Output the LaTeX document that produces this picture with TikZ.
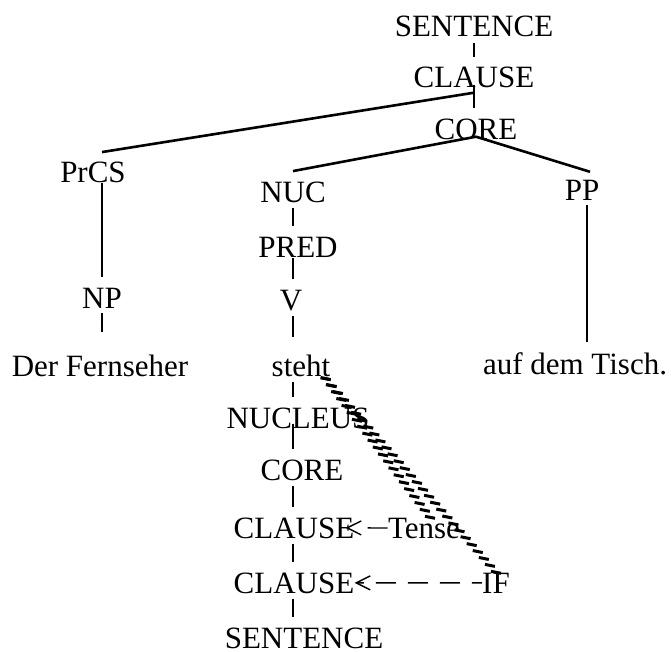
\documentclass[tikz,border=0pt]{standalone}
\usepackage{fontspec}
\setmainfont{Liberation Serif}
\usetikzlibrary{arrows.meta, calc}

\begin{document}
\begin{tikzpicture}[
    x=0.5bp, y=-0.5bp,
    word/.style={anchor=base, inner sep=0pt, font=\fontsize{15.5bp}{18bp}\selectfont},
    edge/.style={line width=1.3bp, shorten <=2.5bp, shorten >=5bp},
    branch/.style={line width=1.3bp},
    hatch/.style={line width=1.5bp},
    pointer/.style={line width=0.7bp, -{Straight Barb[length=7bp, width=7bp, line width=0.7bp]}}
]
\useasboundingbox (0,0) rectangle (671,652);

% Upper tree
\node[word] (s1) at (474,37) {SENTENCE};
\node[word] (cl1) at (474,88) {CLAUSE};
\node[word] (co1) at (476,139) {CORE};
\node[word] (prcs) at (93,182) {PrCS};
\node[word] (nuc) at (293,202) {NUC};
\node[word] (pp) at (582,200) {PP};
\node[word] (pred) at (298,257) {PRED};
\node[word] (np) at (102,308) {NP};
\node[word] (v) at (291,310) {V};

% Sentence
\node[word] (der) at (100,376) {Der Fernseher};
\node[word] (steht) at (301,376) {steht};
\node[word] (tisch) at (575,374) {auf dem Tisch.};

% Operator projection
\node[word] (nucleus) at (298,428) {NUCLEUS};
\node[word] (co2) at (302,480) {CORE};
\node[word] (cl2) at (294,538) {CLAUSE};
\node[word] (cl3) at (294,593) {CLAUSE};
\node[word] (s2) at (304,648) {SENTENCE};
\node[word] (tense) at (424,538) {Tense};
\node[word] (iff) at (496,593) {IF};

% Branches
\draw[edge] (s1.south) -- (cl1.north -| s1.south);
\draw[edge, shorten <=-2bp] (cl1.south) -- (co1.north -| cl1.south);
\draw[branch] ([yshift=-2bp]cl1.south) -- ([yshift=4.5bp]prcs.north -| np);
\draw[branch] ([yshift=1.5bp]co1.south) -- ([yshift=5bp]nuc.north);
\draw[branch] ([yshift=1.5bp]co1.south) -- ([xshift=4bp, yshift=3.75bp]pp.north);
\draw[edge, shorten <=0bp] (prcs.south -| np) -- (np.north);
\draw[edge, shorten >=11bp] (np.south) -- (der.north -| np);
\draw[edge] (nuc.south) -- (pred.north -| nuc);
\draw[edge, shorten <=0.5bp] (pred.south -| nuc) -- (v.north -| nuc);
\draw[edge, shorten >=8.5bp] (v.south -| nuc) -- (steht.north -| nuc);
\draw[edge] ([xshift=2.5bp]pp.south) -- ([xshift=2.5bp]pp.south |- tisch.north);

% Operators
\draw[edge] (steht.south -| nuc) -- (nucleus.north -| nuc);
\draw[edge, shorten <=-2.5bp] (nucleus.south -| nuc) -- (co2.north -| nuc);
\draw[edge] (co2.south -| nuc) -- (cl2.north -| nuc);
\draw[edge] (cl2.south -| nuc) -- (cl3.north -| nuc);
\draw[edge] (cl3.south -| nuc) -- (s2.north -| nuc);
\draw[pointer, dash pattern=on 10bp off 20bp, shorten >=-4.5bp] (tense.west) -- (cl2.east);
\draw[pointer, dash pattern=on 10bp off 6bp, dash phase=5bp] (iff.west) -- (cl3.east);

% Links from steht
\coordinate (h0) at ([xshift=-2.5bp, yshift=-1bp]steht.south east);
\foreach \k in {0,...,20}
  \draw[hatch] ($(h0)!\k/20!([xshift=3bp]tense.north)$) +(-5,-1) -- +(5,1);
\foreach \k in {0,...,28}
  \draw[hatch] ($(h0)!\k/28!(iff.north)$) +(-5,-1) -- +(5,1);

\end{tikzpicture}
\end{document}
